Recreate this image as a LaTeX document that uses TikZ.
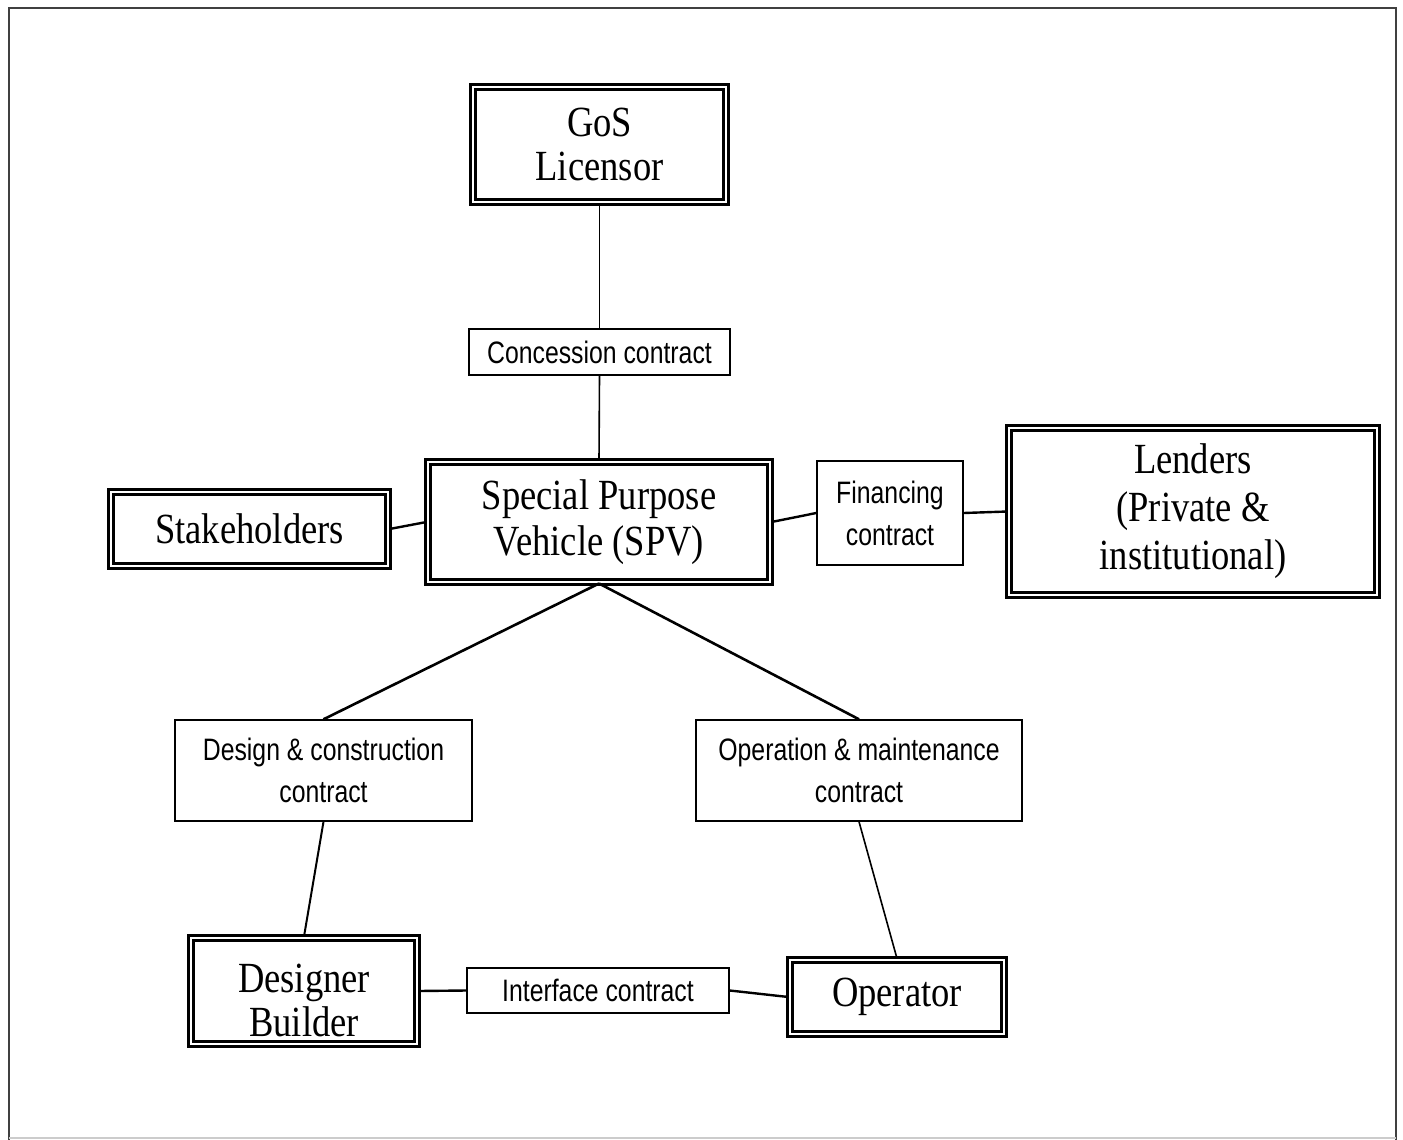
\documentclass[tikz,border=0pt]{standalone}
\usepackage{fontspec}
\setmainfont{Liberation Serif}[FakeStretch=0.85]
\setsansfont{Liberation Sans}[FakeStretch=0.8]
\begin{document}
\begin{tikzpicture}[x=0.5pt,y=-0.5pt,
  party/.style={draw=black, line width=1.5pt, double=white, double distance=1pt,
    inner sep=0pt, align=center, font=\fontsize{21.5pt}{22pt}\selectfont},
  contract/.style={draw=black, line width=0.7pt, fill=white, inner sep=0pt,
    align=center, font=\sffamily\fontsize{15.5pt}{21pt}\selectfont},
  link/.style={draw=black, line width=1pt}]
\useasboundingbox (0,0) rectangle (1403,1140);
% outer frame
\draw[line width=1.1pt, black!75] (9,1140) -- (9,8) -- (1396,8) -- (1396,1140);
\draw[line width=0.6pt, black!20] (9,1138) -- (1396,1138);

% parties
\node[party, minimum width=126.5pt, minimum height=57.5pt] (gos) at (599.5,144.5) {GoS\\Licensor};
\node[party, minimum width=171pt, minimum height=60pt, font=\fontsize{21.5pt}{23pt}\selectfont] (spv) at (599,522) {Special Purpose\\Vehicle (SPV)};
\node[party, minimum width=138.5pt, minimum height=37pt] (stake) at (249.5,529) {Stakeholders};
\node[party, minimum width=184pt, minimum height=83.5pt, font=\fontsize{21.5pt}{24pt}\selectfont] (lend) at (1193,511.5) {Lenders\\(Private \&\\institutional)};
\node[party, minimum width=113pt, minimum height=53pt] (db) at (304,991) {};
\node[font=\fontsize{21.5pt}{22pt}\selectfont, align=center, inner sep=0pt] (dbtext) at (304,1000) {Designer\\Builder};
\node[party, minimum width=107pt, minimum height=37pt] (op) at (897,997) {Operator};

% contracts
\node[contract, minimum width=130.5pt, minimum height=23pt] (conc) at (599.5,352) {Concession contract};
\node[contract, minimum width=73pt, minimum height=52pt] (fin) at (890,513) {Financing\\contract};
\node[contract, minimum width=148.5pt, minimum height=50.5pt] (dcc) at (323.5,770.5) {Design \& construction\\contract};
\node[contract, minimum width=163pt, minimum height=50.5pt] (omc) at (859,770.5) {Operation \& maintenance\\contract};
\node[contract, minimum width=131pt, minimum height=22.5pt] (ifc) at (598,990.5) {Interface contract};

% connectors
\draw[link, line width=0.8pt] (gos.south) -- (conc.north);
\draw[link, line width=0.8pt] (conc.south) -- (spv.north);
\draw[link, line width=1.2pt] (stake.east) -- (spv.west);
\draw[link, line width=1.2pt] (spv.east) -- (fin.west);
\draw[link, line width=1.2pt] (fin.east) -- (lend.west);
\draw[link, line width=1.3pt] (spv.south) -- (dcc.north);
\draw[link, line width=1.3pt] (spv.south) -- (omc.north);
\draw[link] (dcc.south) -- (db.north);
\draw[link, line width=0.8pt] (omc.south) -- (op.north);
\draw[link, line width=1.2pt] (db.east) -- (ifc.west);
\draw[link, line width=1.2pt] (ifc.east) -- (op.west);
\end{tikzpicture}
\end{document}
